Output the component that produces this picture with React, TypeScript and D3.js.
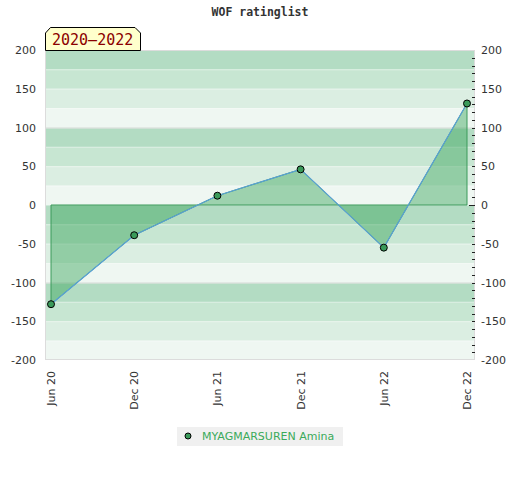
import React from "react";
import * as d3 from "d3";

const categories = ["Jun 20", "Dec 20", "Jun 21", "Dec 21", "Jun 22", "Dec 22"];
const values = [-128, -39, 12, 46, -55, 131];
const yTicks = [200, 150, 100, 50, 0, -50, -100, -150, -200];
const seriesName = "MYAGMARSUREN Amina";
const periodLabel = "2020–2022";
const title = "WOF ratinglist";

const W = 520;
const H = 480;
const left = 45;
const right = 475;
const top = 50;
const bottom = 360;
const bandColors = ["#b3dcc3", "#c7e6d2", "#dbeee2", "#eff7f2"];

export default function App() {
  const y = d3.scaleLinear().domain([-200, 200]).range([bottom, top]);
  const x = d3.scalePoint<string>().domain(categories).range([51, 467]);

  const bands = d3.range(-200, 200, 25).map((v) => {
    const u = v + 25;
    const idx = (((200 - u) / 25) % 4 + 4) % 4;
    return { v, u, idx };
  });

  const pts: [number, number][] = categories.map((c, i) => [x(c)!, y(values[i])]);
  const x0 = x(categories[0])!;
  const xN = x(categories[categories.length - 1])!;
  const areaPts: [number, number][] = [[x0, y(0)], ...pts, [xN, y(0)]];
  const poly = d3.line()(areaPts)! + "Z";
  const linePath = d3.line()(pts)!;

  const minor = d3.range(-190, 191, 10);

  return (
    <svg width={W} height={H} style={{ position: "absolute", left: 0, top: 0 }}>
      <rect x={0} y={0} width={W} height={H} fill="#fff" />
      <text x={260} y={16} textAnchor="middle" fontFamily="DejaVu Sans Mono" fontWeight="bold" fontSize={11.5} fill="#333">
        {title}
      </text>
      {bands.map((b) => (
        <rect key={b.v} x={left} y={y(b.u)} width={right - left} height={y(b.v) - y(b.u)} fill={bandColors[b.idx]} />
      ))}
      {bands.map((b) => (
        <line key={"s" + b.v} x1={left} x2={right} y1={y(b.u) + 0.5} y2={y(b.u) + 0.5} stroke="#ffffff" strokeOpacity={0.35} />
      ))}
      <rect x={left + 0.5} y={top + 0.5} width={right - left - 1} height={bottom - top - 1} fill="none" stroke="#dcdcdc" />
      {[100, -100].map((v) => (
        <line key={"g" + v} x1={left} x2={right} y1={y(v) + 0.5} y2={y(v) + 0.5} stroke="#dddddd" />
      ))}
      <path d={poly} fill="#3aa55a" fillOpacity={0.45} stroke="#3a9a5a" strokeWidth={1} />
      <path d={linePath} fill="none" stroke="#5aa0d8" strokeWidth={1.2} />
      {pts.map((p, i) => (
        <circle key={i} cx={p[0]} cy={p[1]} r={3.5} fill="#3a9a5a" stroke="#000" strokeWidth={1} />
      ))}
      {minor.map((v) => (
        <line
          key={"t" + v}
          x1={v === 0 ? 469 : 472}
          x2={475}
          y1={Math.round(y(v)) + 0.5}
          y2={Math.round(y(v)) + 0.5}
          stroke="#222"
          strokeWidth={1}
        />
      ))}
      {yTicks.map((v) => (
        <text key={"l" + v} x={36} y={y(v) + 4} textAnchor="end" fontFamily="DejaVu Sans" fontSize={11} fill="#333">
          {v}
        </text>
      ))}
      {yTicks.map((v) => (
        <text key={"r" + v} x={481} y={y(v) + 4} textAnchor="start" fontFamily="DejaVu Sans" fontSize={11} fill="#333">
          {v}
        </text>
      ))}
      {categories.map((c) => (
        <text
          key={c}
          transform={`translate(${x(c)! + 4},371) rotate(-90)`}
          textAnchor="end"
          fontFamily="DejaVu Sans"
          fontSize={11}
          fill="#333"
        >
          {c}
        </text>
      ))}
      <path d="M45.5,50.5 L45.5,33 L50.5,27.5 L135,27.5 L140.5,33 L140.5,50.5 Z" fill="#ffffcc" stroke="#000" strokeWidth={1} />
      <text x={52} y={45} fontFamily="DejaVu Sans Mono" fontSize={15} fill="#8b0000">
        {periodLabel}
      </text>
      <rect x={177} y={427} width={166} height={19} fill="#f0f0f0" />
      <circle cx={188} cy={436} r={3} fill="#3a9a5a" stroke="#000" strokeWidth={1} />
      <text x={202} y={440} fontFamily="DejaVu Sans" fontSize={11} fill="#3aaa5a">
        {seriesName}
      </text>
    </svg>
  );
}
